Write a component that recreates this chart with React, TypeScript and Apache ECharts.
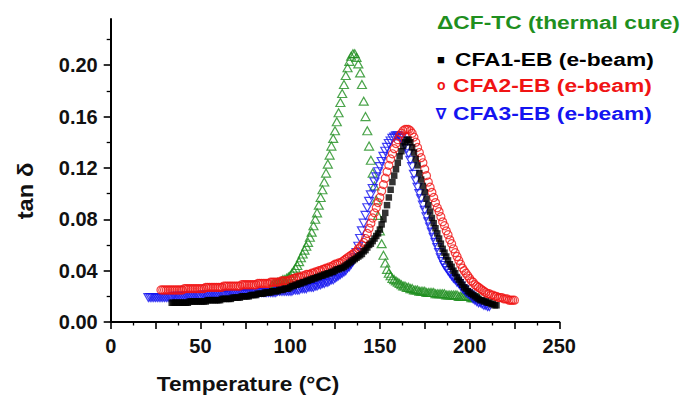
import React, { useEffect, useRef } from "react";
import * as echarts from "echarts";

// Temperature axis ticks / y ticks
const xTicks = [0, 50, 100, 150, 200, 250];
const yTicks = [0, 0.04, 0.08, 0.12, 0.16, 0.2];

// Series data: values sampled every 1 °C starting at the given temperature
const cfTcStart = 90;
const cfTcValues = [
  0.029, 0.030, 0.030, 0.031, 0.031, 0.032, 0.033, 0.033, 0.034, 0.035,
  0.036, 0.038, 0.040, 0.042, 0.044, 0.047, 0.050, 0.053, 0.056, 0.059,
  0.062, 0.066, 0.070, 0.075, 0.080, 0.085, 0.091, 0.097, 0.103, 0.109,
  0.116, 0.123, 0.130, 0.137, 0.143, 0.149, 0.156, 0.163, 0.171, 0.178,
  0.185, 0.192, 0.198, 0.203, 0.207, 0.209, 0.209, 0.206, 0.201, 0.194,
  0.185, 0.172, 0.160, 0.149, 0.137, 0.126, 0.116, 0.106, 0.095, 0.083,
  0.071, 0.061, 0.052, 0.046, 0.041, 0.038, 0.036, 0.034, 0.033, 0.032,
  0.031, 0.030, 0.029, 0.028, 0.028, 0.027, 0.027, 0.026, 0.026, 0.025,
  0.025, 0.025, 0.024, 0.024, 0.024, 0.024, 0.023, 0.023, 0.023, 0.023,
  0.023, 0.022, 0.022, 0.022, 0.022, 0.022, 0.022, 0.021, 0.021, 0.021,
  0.021, 0.021, 0.021, 0.021, 0.020, 0.020, 0.020, 0.020, 0.020, 0.020,
  0.020, 0.019, 0.019, 0.019, 0.019, 0.019,
];

const cfa1Start = 34;
const cfa1Values = [
  0.015, 0.015, 0.015, 0.015, 0.015, 0.015, 0.015, 0.015, 0.015, 0.015,
  0.016, 0.016, 0.016, 0.016, 0.016, 0.016, 0.016, 0.016, 0.016, 0.016,
  0.017, 0.017, 0.017, 0.017, 0.017, 0.017, 0.017, 0.017,
  0.018, 0.018, 0.018, 0.018, 0.018, 0.018,
  0.019, 0.019, 0.019, 0.019, 0.019,
  0.020, 0.020, 0.020, 0.020, 0.020,
  0.021, 0.021, 0.021, 0.021,
  0.022, 0.022, 0.022, 0.022,
  0.023, 0.023, 0.023, 0.023,
  0.024, 0.024, 0.024, 0.024,
  0.025, 0.025, 0.025,
  0.026, 0.026, 0.026,
  0.027, 0.028, 0.028, 0.029, 0.029, 0.030, 0.030, 0.031, 0.031, 0.032,
  0.032, 0.033, 0.033, 0.034, 0.034, 0.035, 0.035, 0.036, 0.036, 0.037,
  0.037, 0.038, 0.038, 0.039, 0.039, 0.040, 0.041, 0.041, 0.042, 0.042,
  0.043, 0.044, 0.045, 0.046, 0.047, 0.048, 0.049, 0.050, 0.051, 0.052,
  0.053, 0.055, 0.056, 0.058, 0.060, 0.061, 0.063, 0.065, 0.067, 0.069,
  0.072, 0.076, 0.080, 0.085, 0.091, 0.097, 0.103, 0.109, 0.114, 0.119,
  0.124, 0.129, 0.133, 0.137, 0.140, 0.142, 0.142, 0.140, 0.136, 0.132,
  0.127, 0.122, 0.116, 0.111, 0.106, 0.101, 0.096, 0.091, 0.086, 0.081,
  0.077, 0.073, 0.069, 0.065, 0.061, 0.057, 0.054, 0.051, 0.048, 0.045,
  0.043, 0.040, 0.038, 0.035, 0.033, 0.031, 0.029, 0.027, 0.026, 0.024,
  0.023, 0.022, 0.021, 0.020, 0.019, 0.018, 0.017, 0.017, 0.016, 0.016,
  0.015, 0.015, 0.014, 0.014, 0.013, 0.013,
];

const cfa2Start = 28;
const cfa2Values = [
  0.025, 0.025, 0.025, 0.025, 0.025, 0.025, 0.025, 0.025, 0.025, 0.025, 0.025, 0.025, 0.025,
  0.026, 0.026, 0.026, 0.026, 0.026, 0.026, 0.026, 0.026, 0.026, 0.026, 0.026, 0.026,
  0.027, 0.027, 0.027, 0.027, 0.027, 0.027, 0.027, 0.027, 0.027, 0.027,
  0.028, 0.028, 0.028, 0.028, 0.028, 0.028, 0.028, 0.028, 0.028, 0.028,
  0.029, 0.029, 0.029, 0.029, 0.029, 0.029, 0.029, 0.029, 0.029,
  0.030, 0.030, 0.030, 0.030, 0.030, 0.030, 0.030,
  0.031, 0.031, 0.031, 0.031, 0.031, 0.031,
  0.032, 0.032, 0.032, 0.032, 0.032,
  0.033, 0.033, 0.034, 0.034, 0.035, 0.035, 0.035, 0.036, 0.036, 0.037,
  0.037, 0.037, 0.038, 0.038, 0.039, 0.039, 0.040, 0.040, 0.041, 0.041,
  0.042, 0.042, 0.043, 0.043, 0.044, 0.045, 0.045, 0.046, 0.046, 0.047,
  0.048, 0.049, 0.050, 0.051, 0.052, 0.053, 0.054, 0.055, 0.057, 0.058,
  0.060, 0.062, 0.065, 0.069, 0.073, 0.077, 0.081, 0.085, 0.089, 0.093,
  0.097, 0.102, 0.107, 0.112, 0.117, 0.122, 0.127, 0.131, 0.135, 0.139,
  0.142, 0.145, 0.147, 0.149, 0.150, 0.150, 0.150, 0.149, 0.147, 0.144,
  0.140, 0.136, 0.132, 0.128, 0.124, 0.119, 0.114, 0.109, 0.105, 0.101,
  0.097, 0.093, 0.089, 0.086, 0.082, 0.078, 0.075, 0.071, 0.068, 0.064,
  0.061, 0.057, 0.054, 0.051, 0.048, 0.045, 0.042, 0.040, 0.038, 0.036,
  0.034, 0.032, 0.031, 0.029, 0.028, 0.027, 0.026, 0.025, 0.024, 0.023,
  0.022, 0.022, 0.021, 0.021, 0.020, 0.020, 0.019, 0.019, 0.019, 0.018,
  0.018, 0.018, 0.017, 0.017, 0.017, 0.017,
];

const cfa3Start = 21;
const cfa3Values = [
  0.019, 0.019, 0.019, 0.019, 0.019, 0.019, 0.019, 0.019, 0.019, 0.019, 0.019, 0.019, 0.019, 0.019,
  0.020, 0.020, 0.020, 0.020, 0.020, 0.020, 0.020, 0.020, 0.020, 0.020, 0.020, 0.020, 0.020, 0.020, 0.020, 0.020,
  0.021, 0.021, 0.021, 0.021, 0.021, 0.021, 0.021, 0.021, 0.021, 0.021, 0.021, 0.021, 0.021, 0.021,
  0.022, 0.022, 0.022, 0.022, 0.022, 0.022, 0.022, 0.022, 0.022, 0.022, 0.022, 0.022, 0.022, 0.022,
  0.023, 0.023, 0.023, 0.023, 0.023, 0.023, 0.023, 0.023, 0.023, 0.023, 0.023, 0.023, 0.023, 0.023,
  0.024, 0.024, 0.024, 0.024, 0.024, 0.024, 0.024, 0.024,
  0.024, 0.025, 0.025, 0.025, 0.025, 0.026, 0.026, 0.026, 0.026, 0.027,
  0.027, 0.027, 0.027, 0.028, 0.028, 0.029, 0.029, 0.030, 0.030, 0.031,
  0.031, 0.032, 0.033, 0.033, 0.034, 0.035, 0.036, 0.037, 0.038, 0.039,
  0.040, 0.042, 0.043, 0.045, 0.047, 0.050, 0.054, 0.059, 0.065, 0.071,
  0.077, 0.083, 0.089, 0.094, 0.099, 0.104, 0.109, 0.113, 0.117, 0.121,
  0.125, 0.129, 0.133, 0.136, 0.139, 0.141, 0.143, 0.144, 0.145, 0.145,
  0.144, 0.143, 0.141, 0.138, 0.135, 0.131, 0.126, 0.121, 0.115, 0.110,
  0.105, 0.100, 0.096, 0.091, 0.087, 0.082, 0.078, 0.074, 0.070, 0.066,
  0.062, 0.058, 0.054, 0.050, 0.047, 0.044, 0.042, 0.040, 0.038, 0.036,
  0.034, 0.033, 0.031, 0.030, 0.028, 0.026, 0.025, 0.023, 0.022, 0.021,
  0.020, 0.018, 0.017, 0.016, 0.015, 0.015, 0.014, 0.013, 0.013, 0.012,
  0.012,
];

const seriesNames = [
  "CF-TC (thermal cure)",
  "CFA1-EB (e-beam)",
  "CFA2-EB (e-beam)",
  "CFA3-EB (e-beam)",
];

const GREEN = "#1f8f1f";
const BLACK = "#000000";
const RED = "#f01414";
const BLUE = "#1414f0";
const FONT = "'Liberation Sans', Arial, Helvetica, sans-serif";

const toPairs = (start: number, values: number[]) =>
  values.map((v, i) => [start + i, v]);

export default function App() {
  const ref = useRef<HTMLDivElement>(null);

  useEffect(() => {
    if (!ref.current) return;
    const chart = echarts.init(ref.current, undefined, { renderer: "svg" });

    const legendText = (
      sym: string,
      symX: number,
      label: string,
      labelX: number,
      y: number,
      color: string,
      symSize: number
    ) => [
      {
        type: "text",
        x: symX,
        y,
        style: {
          text: sym,
          fill: color,
          font: `bold ${symSize}px ${FONT}`,
          textAlign: "left",
          textVerticalAlign: "middle",
        },
      },
      {
        type: "text",
        x: labelX,
        y,
        scaleX: 1.2,
        style: {
          text: label,
          fill: color,
          font: `bold 19px ${FONT}`,
          textAlign: "left",
          textVerticalAlign: "middle",
        },
      },
    ];

    const option: any = {
      animation: false,
      backgroundColor: "#ffffff",
      grid: { left: 110.7, right: 121.7, top: 19, bottom: 75, containLabel: false },
      xAxis: {
        type: "value",
        min: 0,
        max: 250,
        interval: 25,
        axisLine: { show: true, onZero: false, lineStyle: { color: "#000", width: 2 } },
        axisTick: { show: true, length: 7, lineStyle: { color: "#000", width: 1.6 } },
        minorTick: { show: true, splitNumber: 2, length: 3.5, lineStyle: { color: "#000", width: 1.3 } },
        splitLine: { show: false },
        axisLabel: {
          margin: 14,
          color: "#111",
          fontSize: 20,
          fontWeight: "bold",
          fontFamily: FONT,
          formatter: (v: number) => (xTicks.includes(v) ? String(v) : ""),
        },
      },
      yAxis: {
        type: "value",
        min: 0,
        max: 0.236,
        interval: 0.04,
        axisLine: { show: true, onZero: false, lineStyle: { color: "#000", width: 2 } },
        axisTick: { show: true, length: 7, customValues: yTicks, lineStyle: { color: "#000", width: 1.6 } },
        minorTick: { show: true, splitNumber: 2, length: 4, lineStyle: { color: "#000", width: 1.3 } },
        splitLine: { show: false },
        axisLabel: {
          margin: 13,
          color: "#111",
          fontSize: 20,
          fontWeight: "bold",
          fontFamily: FONT,
          customValues: yTicks,
          formatter: (v: number) => v.toFixed(2),
        },
      },
      graphic: [
        {
          type: "text",
          x: 248,
          y: 384,
          scaleX: 1.08,
          style: {
            text: "Temperature (°C)",
            fill: "#111",
            font: `bold 21px ${FONT}`,
            textAlign: "center",
            textVerticalAlign: "middle",
          },
        },
        {
          type: "text",
          x: 25,
          y: 191,
          rotation: Math.PI / 2,
          scaleX: 1.08,
          style: {
            text: "tan δ",
            fill: "#111",
            font: `bold 22px ${FONT}`,
            textAlign: "center",
            textVerticalAlign: "middle",
          },
        },
        {
          type: "text",
          x: 437,
          y: 22,
          scaleX: 1.2,
          style: {
            text: "Δ" + seriesNames[0],
            fill: GREEN,
            font: `bold 19px ${FONT}`,
            textAlign: "left",
            textVerticalAlign: "middle",
          },
        },
        ...legendText("■", 437, seriesNames[1], 455, 59, BLACK, 13),
        ...legendText("o", 437, seriesNames[2], 453, 85, RED, 14),
        ...legendText("∇", 436, seriesNames[3], 453, 113, BLUE, 15),
      ],
      series: [
        {
          name: seriesNames[0],
          type: "scatter",
          data: toPairs(cfTcStart, cfTcValues),
          symbol: "triangle",
          symbolSize: [9, 8],
          itemStyle: { color: "transparent", borderColor: GREEN, borderWidth: 1.2 },
          z: 1,
        },
        {
          name: seriesNames[3],
          type: "scatter",
          data: toPairs(cfa3Start, cfa3Values),
          symbol: "triangle",
          symbolRotate: 180,
          symbolSize: [9, 8],
          itemStyle: { color: "transparent", borderColor: BLUE, borderWidth: 1.2 },
          z: 2,
        },
        {
          name: seriesNames[2],
          type: "scatter",
          data: toPairs(cfa2Start, cfa2Values),
          symbol: "circle",
          symbolSize: 8,
          itemStyle: { color: "transparent", borderColor: RED, borderWidth: 1.2 },
          z: 3,
        },
        {
          name: seriesNames[1],
          type: "scatter",
          data: toPairs(cfa1Start, cfa1Values),
          symbol: "rect",
          symbolSize: 6.5,
          itemStyle: { color: BLACK },
          z: 4,
        },
      ],
    };

    chart.setOption(option);
    return () => chart.dispose();
  }, []);

  return (
    <div
      ref={ref}
      style={{ position: "absolute", left: 0, top: 0, width: 681, height: 397, background: "#fff" }}
    />
  );
}
